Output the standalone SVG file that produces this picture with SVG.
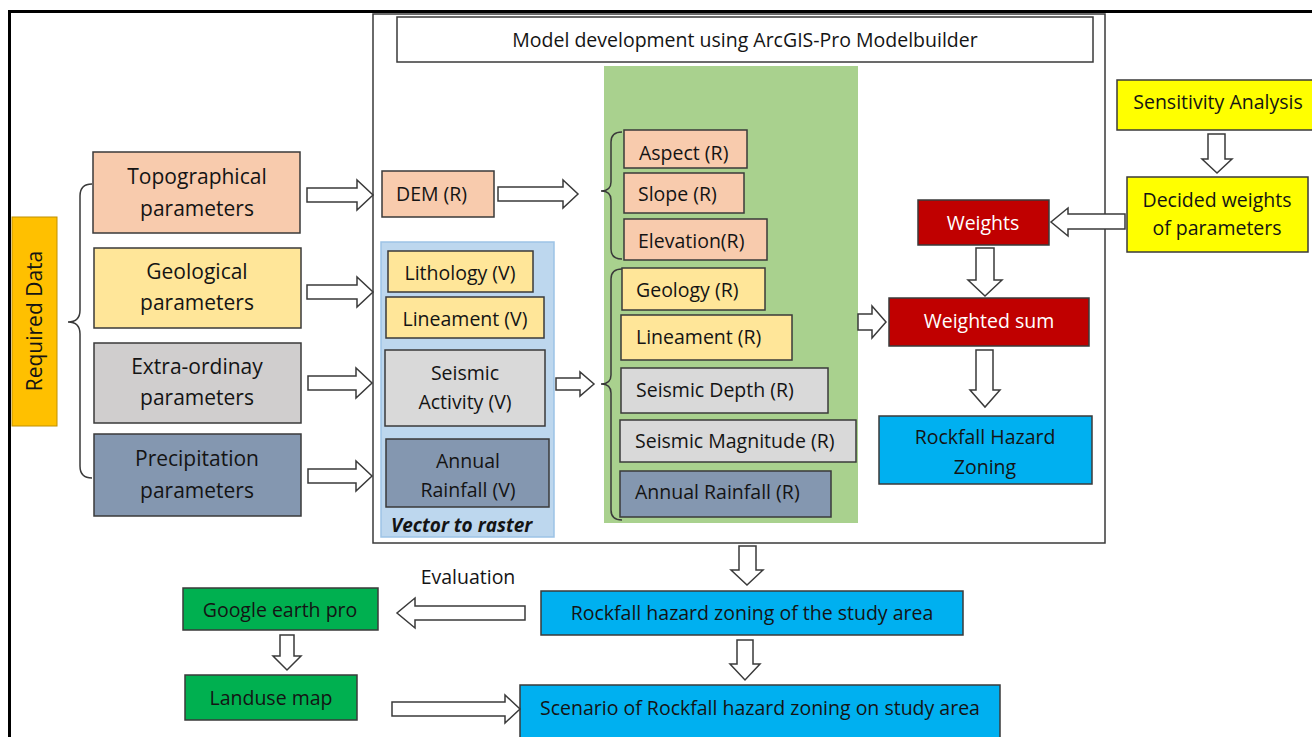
<svg xmlns="http://www.w3.org/2000/svg" width="1312" height="737" viewBox="0 0 1312 737">
<style>
.t{font-family:"Open Sans","Liberation Sans",sans-serif;fill:#141414}
.c{text-anchor:middle}
.w{fill:#ffffff}
.bx{stroke:#3a3a3a;stroke-width:1.5}
.ar{fill:#ffffff;stroke:#3a3a3a;stroke-width:1.5;stroke-linejoin:miter}
.br{fill:none;stroke:#3a3a3a;stroke-width:1.5}
.s19{font-size:21px}
.s17{font-size:19.5px}
.s18{font-size:19px}
</style>
<rect x="0" y="0" width="1312" height="737" fill="#ffffff"/>
<rect x="9.5" y="11.5" width="1310" height="730" fill="none" stroke="#000" stroke-width="3"/>

<g id="model-frame">
<rect x="373" y="14" width="732" height="529" fill="none" stroke="#3a3a3a" stroke-width="1.5"/>
</g>
<g id="title">
<rect x="397" y="17" width="696" height="45" fill="#ffffff" class="bx"/>
<text x="745" y="47" class="t c s17">Model development using ArcGIS-Pro Modelbuilder</text>
</g>
<g id="raster-area">
<rect x="604" y="66" width="254" height="457" fill="#a9d18e"/>
</g>
<g id="vector-to-raster">
<rect x="381" y="242" width="173" height="295" fill="#bdd7ee" stroke="#9dc3e6" stroke-width="1.5"/>
<text x="391" y="532" class="t s18" font-weight="bold" font-style="italic">Vector to raster</text>
</g>

<g id="required-data">
<rect x="12" y="217" width="45" height="209" fill="#ffc000" stroke="#c09000" stroke-width="1"/>
<text x="0" y="0" transform="translate(42,321) rotate(-90)" class="t c s19">Required Data</text>
</g>

<g id="topographical">
<rect x="93" y="152" width="207" height="81" fill="#f8cbad" class="bx"/>
<text x="197" y="184" class="t c s19">Topographical</text>
<text x="197" y="216" class="t c s19">parameters</text>
</g>
<g id="geological">
<rect x="94" y="248" width="207" height="80" fill="#ffe699" class="bx"/>
<text x="197" y="279" class="t c s19">Geological</text>
<text x="197" y="310" class="t c s19">parameters</text>
</g>
<g id="extraordinary">
<rect x="94" y="343" width="207" height="80" fill="#d0cece" class="bx"/>
<text x="197" y="374" class="t c s19">Extra-ordinay</text>
<text x="197" y="405" class="t c s19">parameters</text>
</g>
<g id="precipitation">
<rect x="94" y="434" width="207" height="82" fill="#8497b0" class="bx"/>
<text x="197" y="466" class="t c s19">Precipitation</text>
<text x="197" y="498" class="t c s19">parameters</text>
</g>

<g id="dem">
<rect x="382" y="171" width="112" height="46" fill="#f8cbad" class="bx"/>
<text x="396" y="201" class="t s17">DEM (R)</text>
</g>

<g id="lithology-v">
<rect x="388" y="251" width="145" height="41" fill="#ffe699" class="bx"/>
<text x="460" y="280" class="t c s17">Lithology (V)</text>
</g>
<g id="lineament-v">
<rect x="386" y="297" width="158" height="41" fill="#ffe699" class="bx"/>
<text x="465" y="326" class="t c s17">Lineament (V)</text>
</g>
<g id="seismic-v">
<rect x="385" y="350" width="160" height="76" fill="#d9d9d9" class="bx"/>
<text x="465" y="380" class="t c s17">Seismic</text>
<text x="465" y="409" class="t c s17">Activity (V)</text>
</g>
<g id="rainfall-v">
<rect x="386" y="439" width="163" height="68" fill="#8497b0" class="bx"/>
<text x="468" y="468" class="t c s17">Annual</text>
<text x="468" y="497" class="t c s17">Rainfall (V)</text>
</g>

<g id="aspect-r">
<rect x="624" y="130" width="123" height="38" fill="#f8cbad" class="bx"/>
<text x="639" y="160" class="t s17">Aspect (R)</text>
</g>
<g id="slope-r">
<rect x="624" y="173" width="120" height="40" fill="#f8cbad" class="bx"/>
<text x="638" y="201" class="t s17">Slope (R)</text>
</g>
<g id="elevation-r">
<rect x="624" y="219" width="143" height="41" fill="#f8cbad" class="bx"/>
<text x="638" y="248" class="t s17">Elevation(R)</text>
</g>
<g id="geology-r">
<rect x="622" y="268" width="143" height="42" fill="#ffe699" class="bx"/>
<text x="636" y="297" class="t s17">Geology  (R)</text>
</g>
<g id="lineament-r">
<rect x="621" y="315" width="171" height="45" fill="#ffe699" class="bx"/>
<text x="636" y="344" class="t s17">Lineament (R)</text>
</g>
<g id="seismic-depth-r">
<rect x="621" y="368" width="207" height="45" fill="#d9d9d9" class="bx"/>
<text x="636" y="397" class="t s17">Seismic Depth (R)</text>
</g>
<g id="seismic-magnitude-r">
<rect x="620" y="420" width="236" height="42" fill="#d9d9d9" class="bx"/>
<text x="635" y="448" class="t s17">Seismic Magnitude (R)</text>
</g>
<g id="rainfall-r">
<rect x="620" y="471" width="211" height="46" fill="#8497b0" class="bx"/>
<text x="635" y="499" class="t s17">Annual Rainfall (R)</text>
</g>

<g id="weights">
<rect x="918" y="200" width="131" height="45" fill="#c00000" class="bx"/>
<text x="983" y="230" class="t c s17 w">Weights</text>
</g>
<g id="weighted-sum">
<rect x="889" y="298" width="200" height="48" fill="#c00000" class="bx"/>
<text x="989" y="328" class="t c s17 w">Weighted sum</text>
</g>
<g id="rockfall-hazard-zoning">
<rect x="879" y="416" width="213" height="68" fill="#00b0f0" class="bx"/>
<text x="985" y="444" class="t c s17">Rockfall Hazard</text>
<text x="985" y="474" class="t c s17">Zoning</text>
</g>

<g id="sensitivity">
<rect x="1117" y="80" width="200" height="50" fill="#ffff00" class="bx"/>
<text x="1218" y="109" class="t c s17">Sensitivity Analysis</text>
</g>
<g id="decided-weights">
<rect x="1127" y="177" width="181" height="75" fill="#ffff00" class="bx"/>
<text x="1217" y="207" class="t c s17">Decided weights</text>
<text x="1217" y="235" class="t c s17">of parameters</text>
</g>

<g id="rockfall-study-area">
<rect x="541" y="591" width="422" height="44" fill="#00b0f0" class="bx"/>
<text x="752" y="620" class="t c s17">Rockfall hazard zoning of the study area</text>
</g>
<g id="google-earth">
<rect x="183" y="588" width="195" height="42" fill="#00b050" class="bx"/>
<text x="280" y="617" class="t c s17">Google earth pro</text>
</g>
<g id="landuse">
<rect x="185" y="675" width="172" height="45" fill="#00b050" class="bx"/>
<text x="271" y="705" class="t c s17">Landuse map</text>
</g>
<g id="scenario">
<rect x="520" y="685" width="480" height="55" fill="#00b0f0" class="bx"/>
<text x="760" y="715" class="t c s17">Scenario of Rockfall hazard zoning on study area</text>
</g>
<g id="evaluation-label">
<text x="468" y="584" class="t c s17">Evaluation</text>
</g>

<g id="connectors">
<path class="br" d="M92,184 Q80,184 80,196 L80,310 Q80,322 68,322 Q80,322 80,334 L80,466 Q80,478 92,478"/>
<path class="br" d="M622,132 Q611,132 611,142 L611,182 Q611,191 601,191 Q611,191 611,200 L611,249 Q611,259 622,259"/>
<path class="br" d="M622,269 Q611,269 611,279 L611,375 Q611,384 601,384 Q611,384 611,393 L611,510 Q611,520 622,520"/>

<path class="ar" d="M307,188 L357,188 L357,180 L373,195 L357,210 L357,202 L307,202 Z"/>
<path class="ar" d="M307,285 L357,285 L357,277 L373,292 L357,307 L357,299 L307,299 Z"/>
<path class="ar" d="M308,376 L356,376 L356,368 L372,383 L356,398 L356,390 L308,390 Z"/>
<path class="ar" d="M308,469 L356,469 L356,461 L372,476 L356,491 L356,483 L308,483 Z"/>

<path class="ar" d="M498,187 L563,187 L563,180 L578,194 L563,208 L563,201 L498,201 Z"/>
<path class="ar" d="M556,378 L580,378 L580,372 L594,384 L580,396 L580,390 L556,390 Z"/>
<path class="ar" d="M858,314 L872,314 L872,306 L886,322 L872,338 L872,330 L858,330 Z"/>

<path class="ar" d="M976,248 L994,248 L994,280 L1002,280 L985,296 L968,280 L976,280 Z"/>
<path class="ar" d="M976,350 L993,350 L993,390 L1000,390 L985,407 L970,390 L976,390 Z"/>
<path class="ar" d="M1208,134 L1225,134 L1225,159 L1232,159 L1217,173 L1202,159 L1208,159 Z"/>
<path class="ar" d="M1125,214 L1068,214 L1068,208 L1051,222 L1068,236 L1068,229 L1125,229 Z"/>

<path class="ar" d="M739,546 L756,546 L756,570 L763,570 L747,585 L731,570 L739,570 Z"/>
<path class="ar" d="M525,606 L415,606 L415,598 L397,613 L415,628 L415,620 L525,620 Z"/>
<path class="ar" d="M280,635 L294,635 L294,656 L301,656 L287,670 L273,656 L280,656 Z"/>
<path class="ar" d="M392,702 L505,702 L505,695 L520,709 L505,723 L505,716 L392,716 Z"/>
<path class="ar" d="M737,640 L753,640 L753,664 L760,664 L745,680 L730,664 L737,664 Z"/>
</g>
</svg>
